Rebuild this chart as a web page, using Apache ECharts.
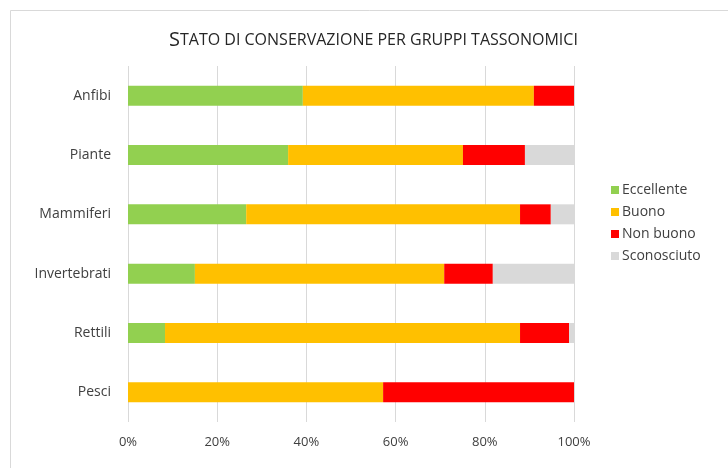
<!DOCTYPE html>
<html>
<head>
<meta charset="utf-8">
<script src="https://cdn.jsdelivr.net/npm/echarts@6/dist/echarts.min.js"></script>
<style>
html,body{margin:0;padding:0;background:#fff;}
#main{width:728px;height:468px;}
</style>
</head>
<body>
<div id="main"></div>
<script>
var categorie = ['Pesci', 'Rettili', 'Invertebrati', 'Mammiferi', 'Piante', 'Anfibi'];
var eccellente = [0, 8.3, 15.0, 26.5, 35.9, 39.2];
var buono = [57.2, 79.6, 55.9, 61.4, 39.2, 51.8];
var nonBuono = [42.8, 11.0, 10.9, 6.9, 13.9, 9.0];
var sconosciuto = [0, 1.1, 18.2, 5.2, 11.0, 0];
var tickPerc = [0, 20, 40, 60, 80, 100];

var myChart = echarts.init(document.getElementById('main'));

function serie(nome, dati, colore){
	return {
		name: nome,
		type: 'bar',
		stack: 'tot',
		barWidth: 20,
		data: dati,
		itemStyle: {color: colore}
	};
}

var option = {
	backgroundColor: '#fff',
	animation: false,
	textStyle: {fontFamily: 'Open Sans'},
	title: {
		text: '{big|S}{small|TATO DI CONSERVAZIONE PER GRUPPI TASSONOMICI}',
		left: 164,
		top: 25,
		textStyle: {
			fontWeight: 'normal',
			rich: {
				big: {fontSize: 20, color: '#262626', fontFamily: 'Open Sans', fontWeight: 'normal'},
				small: {fontSize: 16, color: '#262626', fontFamily: 'Open Sans', fontWeight: 'normal'}
			}
		}
	},
	legend: {
		orient: 'vertical',
		left: 606,
		top: 178,
		itemWidth: 8,
		itemHeight: 8,
		itemGap: 8,
		icon: 'rect',
		textStyle: {fontSize: 14, color: '#404040', padding: [0, 0, 0, -2]},
		data: ['Eccellente', 'Buono', 'Non buono', 'Sconosciuto']
	},
	grid: {left: 128, right: 154, top: 66, bottom: 46},
	xAxis: {
		type: 'value',
		min: tickPerc[0],
		max: tickPerc[tickPerc.length - 1],
		interval: 20,
		axisLine: {show: false},
		axisTick: {show: false},
		axisLabel: {formatter: '{value}%', fontSize: 13, color: '#404040', margin: 14},
		splitLine: {lineStyle: {color: '#d9d9d9', width: 1}}
	},
	yAxis: {
		type: 'category',
		data: categorie,
		axisLine: {show: false},
		axisTick: {show: false},
		axisLabel: {fontSize: 14, color: '#404040', margin: 17}
	},
	graphic: [{
		type: 'rect',
		shape: {x: 10.5, y: 10.5, width: 730, height: 470},
		style: {fill: 'none', stroke: '#d9d9d9', lineWidth: 1},
		silent: true
	}],
	series: [
		serie('Eccellente', eccellente, '#92D050'),
		serie('Buono', buono, '#FFC000'),
		serie('Non buono', nonBuono, '#FF0000'),
		serie('Sconosciuto', sconosciuto, '#D9D9D9')
	]
};

myChart.setOption(option);
</script>
</body>
</html>
